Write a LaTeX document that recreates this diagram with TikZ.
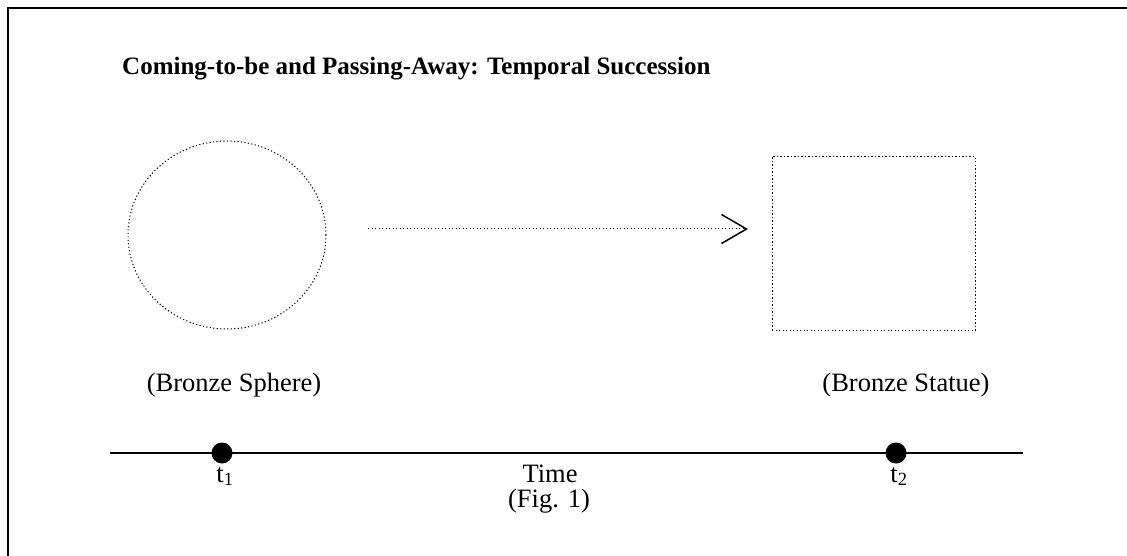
\documentclass[tikz,border=0pt]{standalone}
\usepackage{fontspec}
\setmainfont{Liberation Serif}
\usetikzlibrary{shapes.geometric,arrows.meta}
\tikzset{
  dotline/.style={line width=1pt, dash pattern=on 1.2pt off 2.3pt},
  lbl/.style={font=\fontsize{26.5}{30}\selectfont, inner sep=0pt},
  tdot/.style={circle, fill=black, minimum size=21pt, inner sep=0pt},
}
\begin{document}
\begin{tikzpicture}[x=1pt,y=-1pt]
\useasboundingbox (0,0) rectangle (1127,556);
% frame
\draw[line width=2pt] (8,557) -- (8,8) -- (1128,8);
% title
\node[inner sep=0pt, anchor=base west, font=\fontsize{25}{28}\selectfont\bfseries] (title) at (122,75) {Coming-to-be and Passing-Away: Temporal Succession};
% shapes
\node[ellipse, draw, dotline, minimum width=198pt, minimum height=188pt, inner sep=0pt] (sphere) at (227,235) {};
\node[rectangle, draw, dotline, minimum width=203pt, minimum height=174pt, inner sep=0pt] (statue) at (873.5,243.5) {};
\coordinate (a1) at (368,229);
\coordinate (a2) at (748,229);
\draw[dotline, -{Straight Barb[length=25pt, width=29pt, line width=1.5pt]}] (a1) -- (a2);
% labels
\node[lbl, anchor=base] (lsphere) at (234,391) {(Bronze Sphere)};
\node[lbl, anchor=base] (lstatue) at (906,391) {(Bronze Statue)};
% timeline
\coordinate (tl) at (110,453);
\coordinate (tr) at (1023,453);
\draw[line width=2pt] (tl) -- (tr);
\node[tdot] (d1) at (222,453) {};
\node[tdot] (d2) at (896,453) {};
\node[lbl, anchor=base] (t1) at (225,482) {t\textsubscript{1}};
\node[lbl, anchor=base] (t2) at (899,482) {t\textsubscript{2}};
\node[lbl, anchor=base] (time) at (550,482) {Time};
\node[lbl, anchor=base] (fig) at (549,507) {(Fig. 1)};
\end{tikzpicture}
\end{document}
